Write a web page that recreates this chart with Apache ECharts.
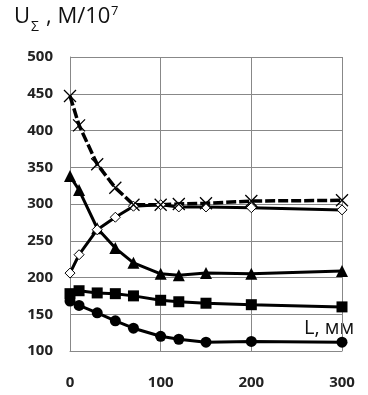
<!DOCTYPE html>
<html>
<head>
<meta charset="utf-8">
<script src="https://cdn.jsdelivr.net/npm/echarts@6/dist/echarts.min.js"></script>
<style>
  html, body { margin: 0; padding: 0; background: #fff; }
  #chart { width: 368px; height: 395px; }
</style>
</head>
<body>
<div id="chart"></div>
<script>
// Length L, mm
const lengths = [0, 10, 30, 50, 70, 100, 120, 150, 200, 300];
// U_Σ values, M/10^7
const crossValues    = [447, 407, 354, 322, 299, 299, 300, 301, 304, 305];
const diamondValues  = [206, 231, 265, 282, 297, 299, 296, 296, 295, 292];
const triangleValues = [338, 319, 267, 240, 220, 205, 203, 206, 205, 209];
const squareValues   = [178, 182, 179, 178, 175, 169, 167, 165, 163, 160];
const circleValues   = [168, 162, 152, 141, 131, 120, 116, 112, 113, 112];

const xTicks = [0, 100, 200, 300];
const yTicks = [100, 150, 200, 250, 300, 350, 400, 450, 500];

const pairs = vals => lengths.map((x, i) => [x, vals[i]]);
const crossPath = 'path://M0,0L10,10M10,0L0,10';
const FONT = '"Open Sans", sans-serif';

const chart = echarts.init(document.getElementById('chart'), null, { renderer: 'canvas' });

function lineSeries(vals, symbol, size, opts) {
  return Object.assign({
    type: 'line',
    data: pairs(vals),
    symbol: symbol,
    symbolSize: size,
    showAllSymbol: true,
    animation: false,
    lineStyle: { color: '#000', width: 3 },
    itemStyle: { color: '#000' },
    emphasis: { disabled: true }
  }, opts || {});
}

chart.setOption({
  backgroundColor: '#fff',
  animation: false,
  grid: { left: 70, right: 26, top: 57, bottom: 44 },
  xAxis: {
    type: 'value',
    min: 0, max: 300, interval: 100,
    axisLine: { show: true, onZero: false, lineStyle: { color: '#888', width: 1 } },
    axisTick: { show: false },
    splitLine: { show: true, lineStyle: { color: '#888', width: 1 } },
    axisLabel: {
      margin: 24, fontSize: 15, fontWeight: 'bold', color: '#222', fontFamily: FONT,
      formatter: v => xTicks.includes(v) ? String(v) : ''
    }
  },
  yAxis: {
    type: 'value',
    min: 100, max: 500, interval: 50,
    axisLine: { show: true, lineStyle: { color: '#888', width: 1 } },
    axisTick: { show: false },
    splitLine: { show: true, lineStyle: { color: '#888', width: 1 } },
    axisLabel: {
      margin: 17, fontSize: 15, fontWeight: 'bold', color: '#222', fontFamily: FONT,
      formatter: v => yTicks.includes(v) ? String(v) : ''
    }
  },
  series: [
    lineSeries(circleValues, 'circle', 11),
    lineSeries(squareValues, 'rect', 11),
    lineSeries(triangleValues, 'triangle', 12),
    lineSeries(diamondValues, 'diamond', 10, {
      itemStyle: { color: '#fff', borderColor: '#000', borderWidth: 1 }
    }),
    lineSeries(crossValues, crossPath, 12, {
      lineStyle: { color: '#000', width: 3.5, type: [10, 3] },
      itemStyle: { color: 'transparent', borderColor: '#000', borderWidth: 1.3 }
    })
  ],
  graphic: [
    { type: 'text', left: 14, top: 6, style: { text: 'U', fontSize: 22, fill: '#111', fontFamily: FONT } },
    { type: 'text', left: 31, top: 20, style: { text: 'Σ', fontSize: 14, fill: '#111', fontFamily: FONT } },
    { type: 'text', left: 46, top: 6, style: { text: ', M/10', fontSize: 22, fill: '#111', fontFamily: FONT } },
    { type: 'text', left: 111, top: 5, style: { text: '7', fontSize: 13, fill: '#111', fontFamily: FONT } },
    { type: 'text', left: 304, top: 318, style: { text: 'L, мм', fontSize: 20, fill: '#111', fontFamily: FONT } }
  ]
});
</script>
</body>
</html>
